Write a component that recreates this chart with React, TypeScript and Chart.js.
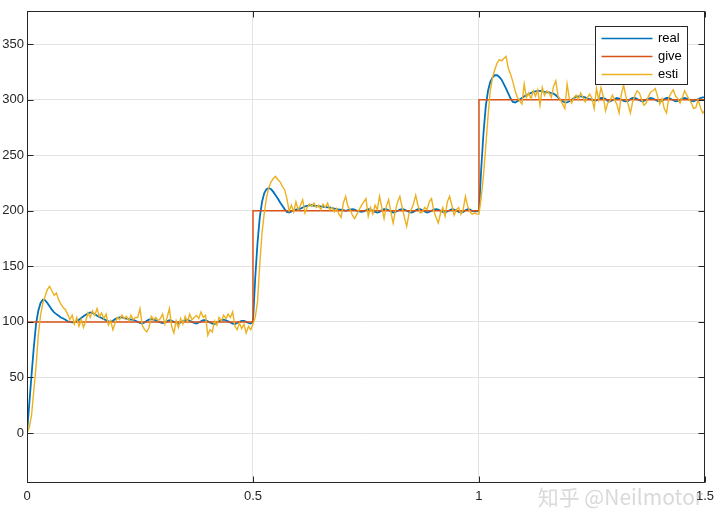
import React, { useEffect, useRef } from 'react';
import { Chart, registerables } from 'chart.js';

Chart.register(...registerables);

// Sampling grid of the simulation (seconds between samples)
const SAMPLE_STEP = 0.005;

// "real" speed, one value per sample (t = 0 .. 1.5)
const realValues = [
  0, 26, 52, 77, 98, 110, 117, 120, 119.5, 117,
  114, 111, 108.5, 107, 105.5, 104, 103, 102, 100.5, 100,
  99.5, 99.5, 100.5, 102, 103.5, 105, 106.5, 107.5, 108.5, 108,
  107, 105.5, 104.5, 103.5, 102.5, 101.5, 100.5, 100, 101, 102.5,
  103.5, 104, 104, 103.5, 103, 102.5, 102, 102, 101, 100,
  99, 98.5, 99.5, 101, 102, 102.5, 102, 101.5, 100.5, 99.5,
  99, 99.5, 100.5, 101.5, 101, 100, 99, 98.5, 99.5, 100.5,
  101.5, 102, 101, 100, 99, 98.5, 99.5, 100.5, 101.5, 101.5,
  100.5, 99.5, 98.5, 98, 99, 100.5, 101.5, 102, 101.5, 100.5,
  99.5, 98.5, 98, 99, 100, 101, 101, 100, 99, 98.5,
  100, 140, 171, 194, 208, 216, 219.5, 220.5, 219.5, 217,
  214, 211, 207.5, 204.5, 201.5, 199, 198.5, 199.5, 200.5, 201,
  201.5, 202, 203, 204, 204.5, 205, 205, 204.5, 204.5, 204,
  204, 203.5, 203.5, 203, 203, 202.5, 202, 201.5, 201, 201,
  200.5, 200, 200.5, 201, 201.5, 201, 200, 199.5, 199, 199.5,
  200.5, 201.5, 201, 200, 199, 198.5, 199, 200.5, 201.5, 201.5,
  200.5, 199.5, 198.5, 199, 200, 201, 201.5, 201, 200, 199,
  198.5, 199, 200.5, 201.5, 201.5, 200.5, 199.5, 198.5, 199, 200,
  201, 201.5, 201, 200, 199, 198.5, 199.5, 200.5, 201.5, 201,
  200, 199, 198.5, 199, 200.5, 201.5, 201, 200, 199.5, 199.5,
  200, 238, 270, 294, 308, 316, 320, 322, 322, 320.5,
  318, 314, 310, 305.5, 301, 298, 297.5, 298.5, 300, 301.5,
  303, 304, 305, 306, 307, 307.5, 308, 308, 307.5, 307,
  306.5, 306.5, 306, 305.5, 304, 302, 300, 298.5, 297.5, 297.5,
  298.5, 300, 301.5, 302.5, 303, 303, 302.5, 302, 301, 300.5,
  300, 299.5, 299.5, 300.5, 301.5, 301.5, 300.5, 299, 298.5, 299.5,
  300.5, 301.5, 301, 300, 299, 298.5, 299, 300.5, 301.5, 301.5,
  300.5, 299.5, 298.5, 299, 300, 301, 301.5, 301, 300, 299,
  298.5, 299, 300.5, 301.5, 301.5, 300.5, 299.5, 298.5, 299, 300,
  301, 301.5, 301, 300, 299, 298.5, 299.5, 300.5, 301.5, 302,
  302,
];

// "esti" (estimated) speed, one value per sample
const estiValues = [
  0, 5, 16, 38, 60, 88, 106, 117, 123, 129,
  132, 128, 124, 126, 120, 116, 113, 111, 107, 102,
  106, 98, 104, 96, 102, 95, 101, 108, 104, 110,
  106, 112, 105, 108, 103, 107, 97, 101, 93, 99,
  104, 102, 106, 103, 105, 101, 106, 102, 104, 104,
  112, 97, 93, 91, 95, 105, 102, 104, 101, 103,
  107, 98, 104, 112, 96, 90, 101, 95, 103, 98,
  105, 100, 107, 102, 104, 106, 103, 109, 104, 106,
  88, 93, 91, 101, 97, 104, 101, 106, 103, 107,
  104, 109, 96, 93, 99, 94, 98, 90, 96, 93,
  98, 104, 118, 152, 180, 198, 212, 221, 226, 229,
  231, 228, 226, 222, 219, 211, 200, 205, 199, 208,
  201, 205, 210, 198, 203, 206, 204, 207, 203, 205,
  201, 206, 203, 207, 201, 203, 199, 202, 197, 194,
  207, 213, 204, 201, 196, 193, 197, 201, 205, 208,
  211, 195, 203, 197, 205, 201, 213, 203, 193, 204,
  210, 199, 189, 200, 208, 213, 203, 194, 186, 197,
  201, 206, 214, 205, 198, 199, 203, 201, 208, 211,
  200, 194, 189, 198, 203, 195, 208, 213, 205, 196,
  201, 203, 197, 201, 213, 204, 199, 197, 198, 197,
  197, 212, 232, 258, 285, 308, 320, 327, 333, 336,
  335, 337, 339, 328, 323, 316, 308, 302, 299, 296,
  314, 302, 306, 301, 308, 303, 309, 295, 311, 304,
  308, 306, 302, 312, 317, 303, 300, 296, 292, 314,
  301, 297, 302, 304, 300, 306, 302, 298, 302, 305,
  301, 292, 310, 300, 311, 303, 290, 297, 299, 304,
  300, 296, 288, 305, 313, 303, 296, 288, 298, 304,
  308, 306, 300, 295, 297, 303, 307, 308, 310, 303,
  296, 301, 292, 288, 302, 306, 309, 303, 301, 297,
  302, 308, 304, 300, 297, 292, 293, 300, 293, 288,
  290,
];

// "give" reference (step command)
const giveTimes = [0, 0.5, 0.5, 1.0, 1.0, 1.5];
const giveValues = [100, 100, 200, 200, 300, 300];

const seriesNames = ['real', 'give', 'esti'];
const seriesColors = ['#0072BD', '#D95319', '#EDB120'];

const xTicks = [0, 0.5, 1, 1.5];
const xTickLabels = ['0', '0.5', '1', '1.5'];
const yTicks = [0, 50, 100, 150, 200, 250, 300, 350];
const X_MIN = 0;
const X_MAX = 1.5;
const Y_MIN = -45;
const Y_MAX = 380;

const watermarkText = '知乎 @Neilmotor';

const FONT = '"Liberation Sans", Arial, Helvetica, sans-serif';
const AXIS_COLOR = '#262626';

const sampled = (vals: number[]) =>
  vals.map((v, i) => ({ x: Math.round(i * SAMPLE_STEP * 1000) / 1000, y: v }));

const matlabPlugin = {
  id: 'matlabDecor',
  afterDraw(chart: any) {
    const { ctx, chartArea: a, scales } = chart;
    ctx.save();
    // axes box
    ctx.strokeStyle = AXIS_COLOR;
    ctx.lineWidth = 1;
    const L = Math.round(a.left) + 0.5;
    const T = Math.round(a.top) + 0.5;
    const R = Math.round(a.right) - 0.5;
    const B = Math.round(a.bottom) - 0.5;
    ctx.strokeRect(L, T, R - L, B - T);
    // inward ticks
    const TL = 6;
    ctx.beginPath();
    xTicks.forEach((v) => {
      const px = Math.round(scales.x.getPixelForValue(v)) + 0.5;
      ctx.moveTo(px, B);
      ctx.lineTo(px, B - TL);
      ctx.moveTo(px, T);
      ctx.lineTo(px, T + TL);
    });
    yTicks.forEach((v) => {
      const py = Math.round(scales.y.getPixelForValue(v)) + 0.5;
      ctx.moveTo(L, py);
      ctx.lineTo(L + TL, py);
      ctx.moveTo(R, py);
      ctx.lineTo(R - TL, py);
    });
    ctx.stroke();

    // legend box
    const bw = 92;
    const bh = 58;
    const bx = Math.round(a.right) - 18 - bw + 0.5;
    const by = Math.round(a.top) + 15 + 0.5;
    ctx.fillStyle = '#ffffff';
    ctx.fillRect(bx, by, bw, bh);
    ctx.strokeStyle = AXIS_COLOR;
    ctx.lineWidth = 1;
    ctx.strokeRect(bx, by, bw, bh);
    ctx.font = `13px ${FONT}`;
    ctx.textBaseline = 'middle';
    ctx.textAlign = 'left';
    seriesNames.forEach((name, i) => {
      const cy = by + 12 + i * 18;
      ctx.strokeStyle = seriesColors[i];
      ctx.lineWidth = 1.5;
      ctx.beginPath();
      ctx.moveTo(bx + 6, cy);
      ctx.lineTo(bx + 57, cy);
      ctx.stroke();
      ctx.fillStyle = '#000000';
      ctx.fillText(name, bx + 62.5, cy);
    });

    // watermark
    ctx.font = `21px "Noto Sans CJK SC", ${FONT}`;
    ctx.textAlign = 'right';
    ctx.textBaseline = 'middle';
    ctx.fillStyle = 'rgba(160,160,160,0.4)';
    ctx.fillText(watermarkText, 703, 497);
    ctx.restore();
  },
};

export default function App() {
  const canvasRef = useRef<HTMLCanvasElement | null>(null);

  useEffect(() => {
    if (!canvasRef.current) return;
    const chart = new Chart(canvasRef.current, {
      type: 'line',
      data: {
        datasets: [
          {
            label: seriesNames[0],
            data: sampled(realValues),
            borderColor: seriesColors[0],
            borderWidth: 1.8,
            pointRadius: 0,
            tension: 0,
            fill: false,
            order: 2,
          },
          {
            label: seriesNames[1],
            data: giveTimes.map((t, i) => ({ x: t, y: giveValues[i] })),
            borderColor: seriesColors[1],
            borderWidth: 1.5,
            pointRadius: 0,
            tension: 0,
            fill: false,
            order: 1,
          },
          {
            label: seriesNames[2],
            data: sampled(estiValues),
            borderColor: seriesColors[2],
            borderWidth: 1.4,
            pointRadius: 0,
            tension: 0,
            fill: false,
            order: 0,
          },
        ],
      },
      options: {
        animation: false,
        responsive: false,
        maintainAspectRatio: false,
        layout: { padding: { top: 10, right: 14, left: 0, bottom: 0 } },
        plugins: {
          legend: { display: false },
          tooltip: { enabled: false },
        },
        scales: {
          x: {
            type: 'linear',
            min: X_MIN,
            max: X_MAX,
            afterBuildTicks: (scale: any) => {
              scale.ticks = xTicks.map((v) => ({ value: v }));
            },
            afterFit: (scale: any) => {
              scale.height = 47;
            },
            grid: { color: '#e3e3e3', lineWidth: 1, drawTicks: false },
            border: { display: false },
            ticks: {
              padding: 6,
              color: AXIS_COLOR,
              font: { family: FONT, size: 13 },
              maxRotation: 0,
              autoSkip: false,
              callback: (v: any) => {
                const idx = xTicks.indexOf(Number(v));
                return idx >= 0 ? xTickLabels[idx] : '';
              },
            },
          },
          y: {
            type: 'linear',
            min: Y_MIN,
            max: Y_MAX,
            afterBuildTicks: (scale: any) => {
              scale.ticks = yTicks.map((v) => ({ value: v }));
            },
            afterFit: (scale: any) => {
              scale.width = 27;
            },
            grid: { color: '#e3e3e3', lineWidth: 1, drawTicks: false },
            border: { display: false },
            ticks: {
              padding: 3,
              color: AXIS_COLOR,
              font: { family: FONT, size: 13 },
              autoSkip: false,
              callback: (v: any) => String(v),
            },
          },
        },
      },
      plugins: [matlabPlugin],
    } as any);
    return () => chart.destroy();
  }, []);

  return (
    <div
      style={{
        position: 'fixed',
        left: 0,
        top: 0,
        width: 720,
        height: 530,
        background: '#ffffff',
      }}
    >
      <canvas ref={canvasRef} width={720} height={530} style={{ width: 720, height: 530, display: 'block' }} />
    </div>
  );
}
